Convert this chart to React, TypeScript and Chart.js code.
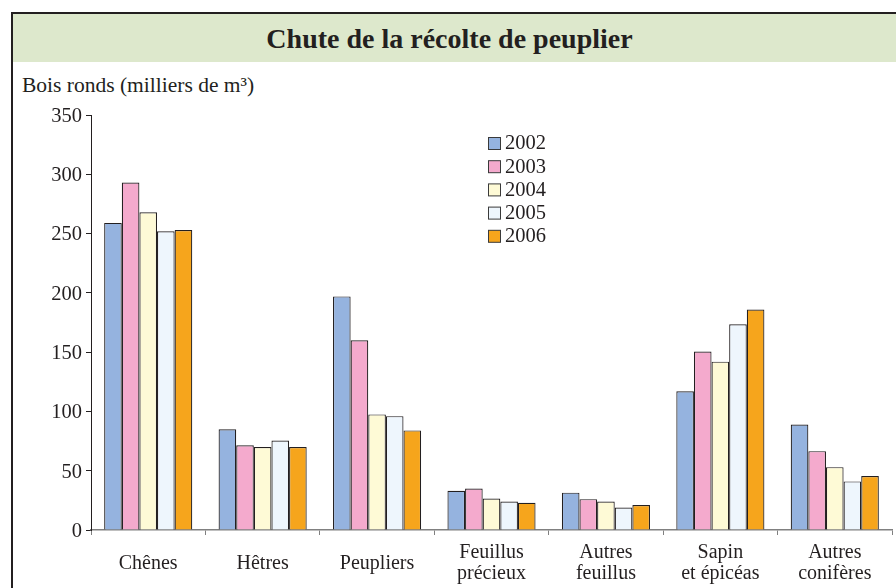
import React, { useEffect, useRef } from 'react';
import { Chart, registerables } from 'chart.js';

Chart.register(...registerables);

const categories: (string | string[])[] = [
  'Chênes',
  'Hêtres',
  'Peupliers',
  ['Feuillus', 'précieux'],
  ['Autres', 'feuillus'],
  ['Sapin', 'et épicéas'],
  ['Autres', 'conifères'],
];
const years = ['2002', '2003', '2004', '2005', '2006'];
const v2002 = [259, 85, 197, 33, 31.5, 117, 89];
const v2003 = [293, 71.5, 160, 35, 26, 150.5, 66.5];
const v2004 = [268, 70, 97.5, 26.5, 24, 142, 53];
const v2005 = [252, 75.5, 96, 24, 19, 173.5, 41];
const v2006 = [253, 70, 84, 23, 21, 186, 45.5];
const seriesValues = [v2002, v2003, v2004, v2005, v2006];
const colors = ['#95b3df', '#f4aacd', '#fefad6', '#eef6fd', '#f6a51c'];
const yMin = 0;
const yMax = 350;
const yStep = 50;

const FONT = '"Liberation Serif", "Times New Roman", serif';
const INK = '#231f20';

const legendPlugin = {
  id: 'customLegend',
  afterDraw(chart: any) {
    const ctx = chart.ctx;
    const x0 = 488;
    const y0 = 143;
    const gap = 23.2;
    ctx.save();
    ctx.font = `20.5px ${FONT}`;
    ctx.textBaseline = 'middle';
    ctx.textAlign = 'left';
    chart.data.datasets.forEach((ds: any, i: number) => {
      const cy = y0 + i * gap;
      ctx.fillStyle = ds.backgroundColor;
      ctx.fillRect(x0 + 0.5, cy - 6 + 0.5, 12, 12);
      ctx.strokeStyle = '#3a3a3a';
      ctx.lineWidth = 1;
      ctx.strokeRect(x0 + 0.5, cy - 6 + 0.5, 12, 12);
      ctx.fillStyle = INK;
      ctx.fillText(ds.label, x0 + 17, cy + 1);
    });
    ctx.restore();
  },
};

export default function App() {
  const ref = useRef<HTMLCanvasElement | null>(null);
  useEffect(() => {
    if (!ref.current) return;
    const chart = new Chart(ref.current, {
      type: 'bar',
      data: {
        labels: categories,
        datasets: years.map((y, i) => ({
          label: y,
          data: seriesValues[i],
          backgroundColor: colors[i],
          borderColor: INK,
          borderWidth: 1.2,
          categoryPercentage: 0.77,
          barPercentage: 1,
        })),
      },
      options: {
        animation: false,
        responsive: false,
        maintainAspectRatio: false,
        layout: { padding: { left: 0, top: 115, right: 4, bottom: 0 } },
        plugins: {
          legend: { display: false },
          tooltip: { enabled: false },
          title: { display: false },
        },
        scales: {
          x: {
            afterFit: (s: any) => { s.height = 58; },
            grid: {
              display: true,
              drawOnChartArea: false,
              drawTicks: true,
              tickLength: 5,
              color: '#808080',
              offset: true,
            },
            border: { display: true, color: '#808080', width: 1.5 },
            ticks: {
              color: INK,
              font: { family: FONT, size: 20, lineHeight: 1.05 },
              padding: 18,
              crossAlign: 'center',
              maxRotation: 0,
              autoSkip: false,
            },
          },
          y: {
            min: yMin,
            max: yMax,
            afterFit: (s: any) => { s.width = 91; },
            grid: {
              display: true,
              drawOnChartArea: false,
              drawTicks: true,
              tickLength: 5,
              color: INK,
            },
            border: { display: true, color: INK, width: 1 },
            ticks: {
              stepSize: yStep,
              color: INK,
              font: { family: FONT, size: 20.5 },
              padding: 4,
              labelOffset: 1.5,
            },
          },
        },
      },
      plugins: [legendPlugin],
    });
    return () => chart.destroy();
  }, []);

  return (
    <div style={{ position: 'fixed', left: 0, top: 0, width: 896, height: 588, overflow: 'hidden', background: '#fff' }}>
      <div
        style={{
          position: 'absolute',
          left: 11,
          top: 12,
          width: 900,
          height: 600,
          border: `2px solid ${INK}`,
          boxSizing: 'border-box',
        }}
      />
      <div
        style={{
          position: 'absolute',
          left: 13,
          top: 14,
          width: 883,
          height: 48,
          background: '#dde8cc',
          display: 'flex',
          alignItems: 'center',
          justifyContent: 'center',
          fontFamily: FONT,
          fontWeight: 'bold',
          fontSize: 28,
          color: INK,
          paddingRight: 10,
          paddingTop: 2,
          boxSizing: 'border-box',
        }}
      >
        Chute de la récolte de peuplier
      </div>
      <div
        style={{
          position: 'absolute',
          left: 22,
          top: 74,
          fontFamily: FONT,
          fontSize: 21.5,
          lineHeight: '22px',
          color: INK,
          whiteSpace: 'nowrap',
        }}
      >
        Bois ronds (milliers de m³)
      </div>
      <canvas ref={ref} width={896} height={588} style={{ position: 'absolute', left: 0, top: 0, width: 896, height: 588 }} />
    </div>
  );
}
